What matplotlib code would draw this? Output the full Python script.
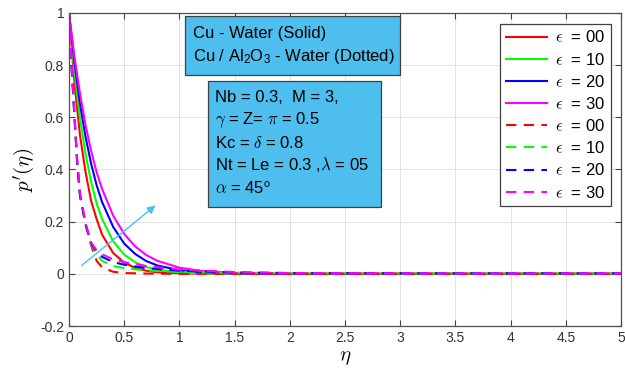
import numpy as np
import matplotlib
matplotlib.use("Agg")
import matplotlib.pyplot as plt
from matplotlib.patches import Rectangle

plt.rcParams['font.family'] = ['Liberation Sans', 'DejaVu Sans']
plt.rcParams['mathtext.fontset'] = 'custom'
plt.rcParams['mathtext.rm'] = 'Liberation Sans'
plt.rcParams['mathtext.it'] = 'Liberation Sans:italic'

# eta grid
eta = [0, 0.05, 0.1, 0.15, 0.2, 0.25, 0.3, 0.4, 0.5, 0.6, 0.7, 0.8,
       1.0, 1.2, 1.5, 2.0, 3.0, 4.0, 5.0]

# Cu - water (solid)
cu_00 = [1, 0.73, 0.53, 0.39, 0.28, 0.21, 0.15, 0.08, 0.043, 0.023, 0.012,
         0.006, 0.002, 0.001, 0, 0, 0, 0, 0]
cu_10 = [1, 0.77, 0.595, 0.46, 0.353, 0.27, 0.21, 0.125, 0.074, 0.044, 0.026,
         0.016, 0.0055, 0.002, 0.0004, 0, 0, 0, 0]
cu_20 = [1, 0.81, 0.65, 0.525, 0.423, 0.34, 0.275, 0.18, 0.116, 0.076, 0.049,
         0.032, 0.0136, 0.0057, 0.0016, 0.0002, 0, 0, 0]
cu_30 = [1, 0.83, 0.69, 0.57, 0.472, 0.39, 0.325, 0.223, 0.153, 0.105, 0.072,
         0.05, 0.0235, 0.011, 0.0036, 0.0006, 0, 0, 0]

# Cu / Al2O3 - water (dotted)
eta_d = [0, 0.02, 0.05, 0.075, 0.1, 0.15, 0.2, 0.25, 0.3, 0.4, 0.5, 0.7,
         1.0, 1.5, 2.0, 3.0, 4.0, 5.0]
hy_00 = [1, 0.82, 0.6, 0.42, 0.3, 0.19, 0.11, 0.05, 0.025, 0.008, 0.003, 0.001,
         0, 0, 0, 0, 0, 0]
hy_10 = [1, 0.82, 0.6, 0.42, 0.3, 0.19, 0.115, 0.075, 0.05, 0.03, 0.022, 0.013,
         0.007, 0.004, 0.003, 0.002, 0.002, 0.002]
hy_20 = [1, 0.82, 0.6, 0.42, 0.3, 0.19, 0.118, 0.085, 0.065, 0.045, 0.035, 0.022,
         0.012, 0.005, 0.003, 0.002, 0.002, 0.002]
hy_30 = [1, 0.83, 0.61, 0.43, 0.31, 0.195, 0.12, 0.09, 0.075, 0.055, 0.045, 0.03,
         0.016, 0.007, 0.003, 0.002, 0.002, 0.002]

colors = ['#ff0000', '#00ff00', '#0000ff', '#ff00ff']
eps_labels = ['00', '10', '20', '30']

fig = plt.figure(figsize=(6.25, 3.8), dpi=100)
ax = fig.add_axes([0.1104, 0.1421, 0.8832, 0.8237])

for c, y, l in zip(colors, [cu_00, cu_10, cu_20, cu_30], eps_labels):
    ax.plot(eta, y, c=c, lw=1.5, label=r'$\epsilon$  = ' + l)
for c, y, l in zip(colors, [hy_00, hy_10, hy_20, hy_30], eps_labels):
    ax.plot(eta_d, y, c=c, lw=1.5, ls=(0, (5, 3.5)), label=r'$\epsilon$  = ' + l)

ax.set_xlim(0, 5)
ax.set_ylim(-0.2, 1)
ax.set_xticks(np.arange(0, 5.01, 0.5))
ax.set_xticklabels(['0', '0.5', '1', '1.5', '2', '2.5', '3', '3.5', '4', '4.5', '5'])
ax.set_yticks(np.arange(-0.2, 1.01, 0.2))
ax.set_yticklabels(['-0.2', '0', '0.2', '0.4', '0.6', '0.8', '1'])
ax.tick_params(direction='in', top=True, right=True, length=4, width=0.8,
               colors='#404040', labelsize=10, labelcolor='#333333')
ax.grid(True, color='#e3e3e3', lw=0.7)
ax.set_axisbelow(True)
for s in ax.spines.values():
    s.set_color('#505050')
    s.set_linewidth(0.9)

ax.set_xlabel(r'$\eta$', fontsize=15, math_fontfamily='cm', labelpad=2)
ax.set_ylabel(r"$p'(\eta)$", fontsize=15, math_fontfamily='cm', labelpad=2)

leg = ax.legend(loc='upper right', bbox_to_anchor=(0.982, 0.966),
                handlelength=2.45, labelspacing=0.37, fancybox=False,
                borderaxespad=0, borderpad=0.35, handletextpad=0.5,
                prop={'family': 'Liberation Sans', 'size': 12, 'math_fontfamily': 'cm'})
leg.get_frame().set_edgecolor('#404040')
leg.get_frame().set_linewidth(0.9)
leg.get_frame().set_alpha(1)

# text boxes
box_c = '#4dbeee'
ax.add_patch(Rectangle((0.2094, 0.801), 0.3903, 0.189, transform=ax.transAxes,
                       fc=box_c, ec='#404040', lw=0.9, zorder=5))
ax.add_patch(Rectangle((0.2527, 0.380), 0.3123, 0.403, transform=ax.transAxes,
                       fc=box_c, ec='#404040', lw=0.9, zorder=5))

def tx(px, py, s, mf='custom'):
    ax.text((px - 69) / 554, (326 - py) / 313, s, transform=ax.transAxes,
            fontsize=12, va='center', ha='left', zorder=6, math_fontfamily=mf)

tx(193, 34, 'Cu - Water (Solid)')
tx(193, 57, r'Cu / Al$_2$O$_3$ - Water (Dotted)')
tx(216, 98, 'Nb = 0.3,  M = 3,')
tx(216, 120, r'$\gamma$ = Z= $\pi$ = 0.5', 'cm')
tx(216, 143, r'Kc = $\delta$ = 0.8', 'cm')
tx(216, 165, r'Nt = Le = 0.3 ,$\lambda$ = 05', 'cm')
tx(216, 188, r'$\alpha$ = 45$^{\mathsf{o}}$', 'cm')

# arrow showing increasing epsilon
ax.annotate('', xy=(0.784, 0.262), xytext=(0.115, 0.032),
            arrowprops=dict(arrowstyle='-|>', color=box_c, lw=1.0,
                            mutation_scale=12, shrinkA=0, shrinkB=0))

fig.savefig('out.png', dpi=100)
